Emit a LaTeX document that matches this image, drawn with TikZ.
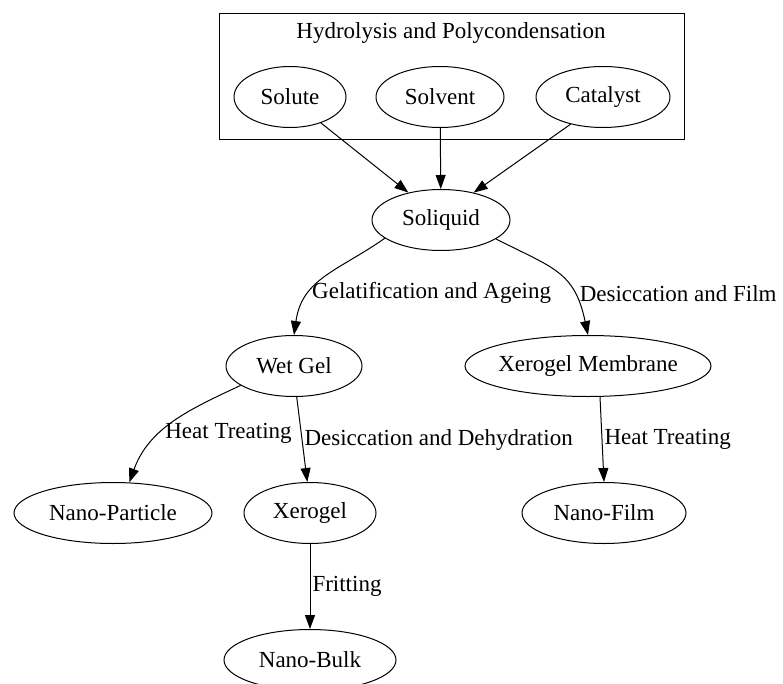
\documentclass[tikz,border=0pt]{standalone}
\usepackage{fontspec}
\setmainfont{Liberation Serif}
\usetikzlibrary{arrows.meta,shapes.geometric}

\begin{document}
\begin{tikzpicture}[x=1pt,y=1pt,font=\fontsize{23}{26}\selectfont,
  stage/.style={draw=black, ellipse, line width=1pt, inner sep=0pt, minimum height=61},
  flow/.style={draw=black, line width=1pt, -{Triangle[length=14pt,width=10pt]}},
  tag/.style={anchor=west, inner sep=2pt}]
  \useasboundingbox (0,0) rectangle (783,-684);

  % cluster
  \draw[line width=1pt] (219,-14) rectangle (684,-140);
  \node (hptitle) at (451,-33) {Hydrolysis and Polycondensation};

  \node[stage, minimum width=112] (solute) at (290,-97) {Solute};
  \node[stage, minimum width=128] (solvent) at (440,-97) {Solvent};
  \node[stage, minimum width=134] (catalyst) at (603,-97) {Catalyst};

  \node[stage, minimum width=138] (soliquid) at (441,-220) {Soliquid};
  \node[stage, minimum width=136] (wetgel) at (294,-366) {Wet Gel};
  \node[stage, minimum width=246, inner xsep=-5pt] (xmembrane) at (588,-366) {Xerogel Membrane};
  \node[stage, minimum width=198] (nparticle) at (113,-513) {Nano-Particle};
  \node[stage, minimum width=132] (xerogel) at (310,-513) {Xerogel};
  \node[stage, minimum width=164] (nfilm) at (604,-513) {Nano-Film};
  \node[stage, minimum width=172] (nbulk) at (310,-660) {Nano-Bulk};

  \draw[flow] (solute.-40) -- (soliquid.140);
  \draw[flow] (solvent) -- (soliquid);
  \draw[flow] (catalyst.-140) -- (soliquid.40);

  \draw[flow] (soliquid.198) to[out=215,in=82,looseness=1.1]
    node[tag, pos=0.68] {Gelatification and Ageing} (wetgel.north);
  \draw[flow] (soliquid.-19) to[out=-27,in=102,looseness=1.25]
    node[tag, pos=0.72, xshift=3pt] {Desiccation and Film} (xmembrane.north);

  \draw[flow] (wetgel.200) to[out=205,in=70]
    node[tag, pos=0.62, xshift=3pt] {Heat Treating} (nparticle.62);
  \draw[flow] (wetgel.-85) -- node[tag, pos=0.5] {Desiccation and Dehydration} (xerogel.95);
  \draw[flow] ([xshift=12pt]xmembrane.south) -- node[tag, pos=0.5] {Heat Treating} (nfilm.north);
  \draw[flow] (xerogel) -- node[tag, pos=0.5] {Fritting} (nbulk);
\end{tikzpicture}
\end{document}
